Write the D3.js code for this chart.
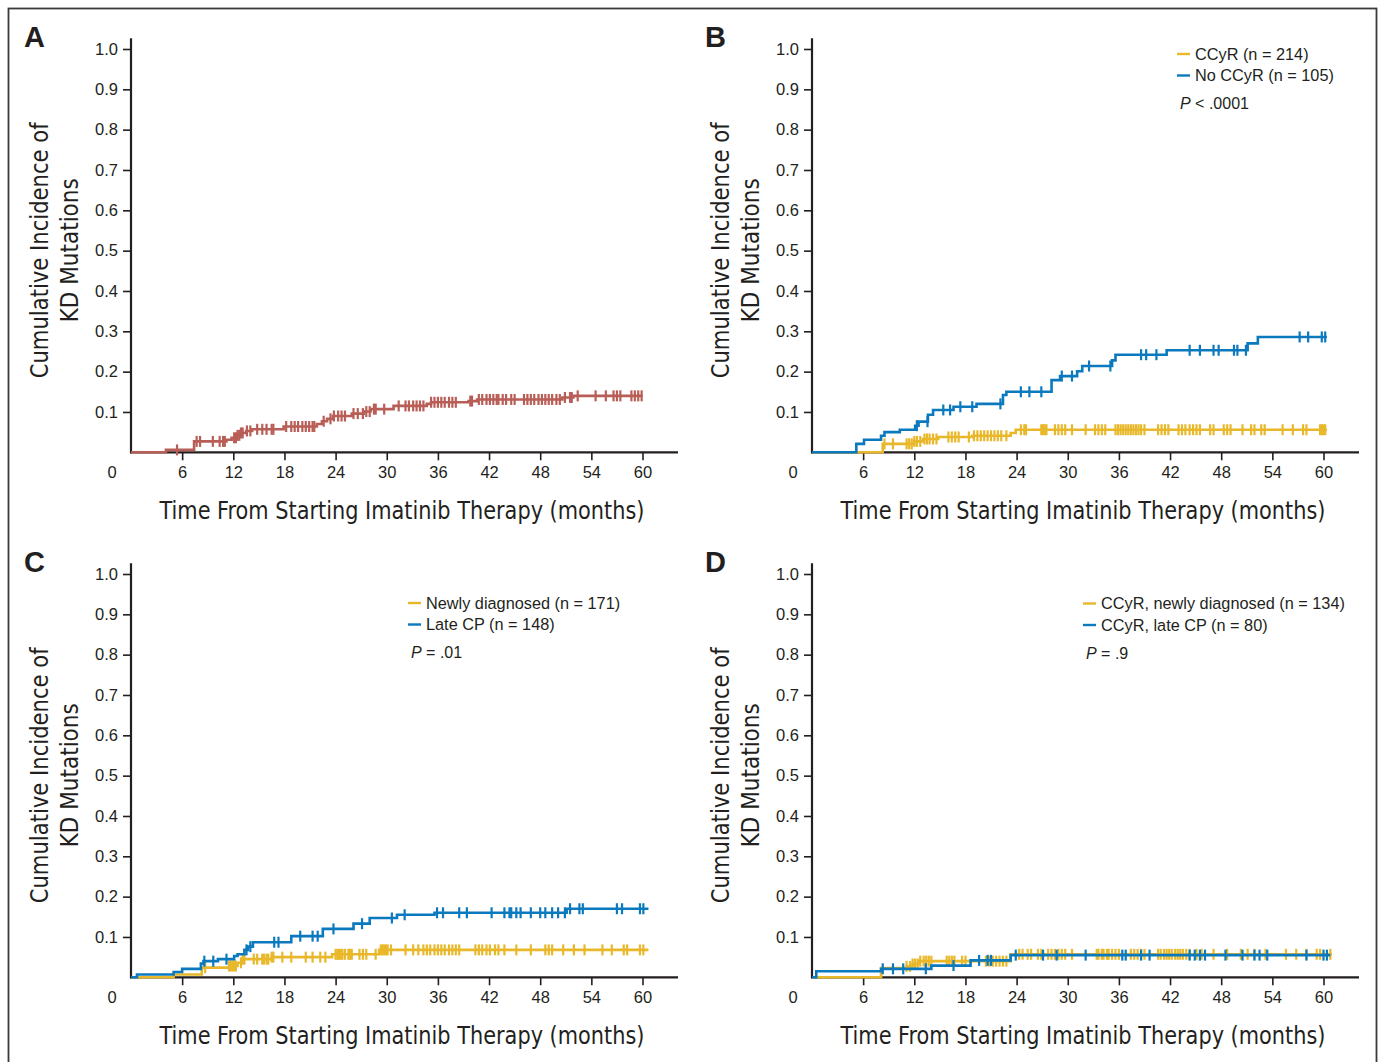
<!DOCTYPE html>
<html>
<head>
<meta charset="utf-8">
<script src="https://cdn.jsdelivr.net/npm/d3@7/dist/d3.min.js"></script>
<style>
    html, body { margin: 0; padding: 0; background: #fff; }
    svg { display: block; }
</style>
</head>
<body>
<svg id="chart" width="1381" height="1062"></svg>
<script>
'use strict';

// Tick labels
var X_TICKS = [6, 12, 18, 24, 30, 36, 42, 48, 54, 60],
    Y_TICKS = [0.1, 0.2, 0.3, 0.4, 0.5, 0.6, 0.7, 0.8, 0.9, 1.0];

// Panel A: all patients. Steps are [month, cumulative incidence]
var aSteps = [[0, 0], [4.1, 0.006], [7.4, 0.027], [11.2, 0.031], [11.8, 0.036], [12.4, 0.042],
    [12.9, 0.048], [13.5, 0.053], [14.2, 0.057], [17.9, 0.064], [21.8, 0.07], [22.4, 0.077],
    [23, 0.083], [23.7, 0.09], [25.9, 0.096], [27.3, 0.101], [28.1, 0.107], [30.8, 0.115],
    [34.7, 0.12], [35.2, 0.124], [39.6, 0.127], [40.6, 0.131], [50.6, 0.136], [51.9, 0.14]],
    aEnd = 60,
    aCensor = [5.4, 7.7, 8.1, 9.6, 10.4, 10.8, 11.0, 12.1, 12.3, 12.5, 12.7, 12.9, 13.1, 13.6,
    14.0, 14.8, 15.4, 15.9, 16.5, 16.7, 18.2, 18.8, 19.2, 19.6, 20.1, 20.5, 20.9, 21.3, 21.5,
    22.6, 23.4, 23.8, 24.3, 24.7, 25.1, 26.1, 26.6, 27.2, 27.6, 28.0, 28.5, 28.7, 29.7, 31.4,
    32.2, 32.6, 33.1, 33.5, 33.9, 34.3, 35.2, 35.6, 36.0, 36.4, 36.8, 37.3, 37.7, 38.1, 39.8,
    40.0, 40.8, 41.2, 41.7, 42.1, 42.5, 42.9, 43.1, 43.6, 44.0, 44.6, 45.0, 46.1, 46.5, 46.9,
    47.3, 47.8, 48.2, 48.6, 49.0, 49.4, 49.9, 50.3, 50.9, 51.5, 51.7, 52.4, 54.5, 55.7, 56.6,
    57.0, 57.4, 58.7, 59.1, 59.5, 59.9];

// Panel B: CCyR vs no CCyR
var bYesSteps = [[0, 0], [8.3, 0.021], [12, 0.027], [13, 0.033], [14.8, 0.038], [18.8, 0.041],
    [23.3, 0.048], [23.9, 0.056]],
    bYesEnd = 60.4,
    bYesCensor = [8.5, 9.5, 11.1, 11.4, 11.7, 12.0, 12.3, 12.7, 13.2, 13.5, 13.8, 14.2, 14.6,
    16.0, 16.4, 16.8, 17.2, 18.4, 19.0, 19.4, 19.8, 20.2, 20.6, 21.0, 21.4, 21.8, 22.2, 22.8,
    24.5, 24.9, 25.1, 26.9, 27.1, 27.3, 27.5, 28.5, 28.9, 29.3, 29.7, 30.5, 32.1, 33.2, 33.6,
    34.0, 34.4, 35.6, 35.9, 36.2, 36.5, 36.8, 37.1, 37.4, 37.7, 38.0, 38.3, 38.6, 39.0, 40.6,
    41.0, 41.4, 41.8, 43.0, 43.4, 43.8, 44.3, 44.7, 45.1, 45.5, 46.7, 47.1, 48.3, 48.7, 49.1,
    50.5, 51.5, 51.9, 52.7, 53.1, 55.2, 56.4, 57.6, 58.0, 59.6, 59.8, 60.0, 60.2];
var bNoSteps = [[0, 0], [5.2, 0.021], [6.1, 0.031], [8.1, 0.041], [8.5, 0.05], [10.3, 0.056],
    [12.1, 0.066], [12.5, 0.076], [13.6, 0.093], [14.2, 0.105], [16.6, 0.113], [19.3, 0.12],
    [22.4, 0.142], [22.8, 0.15], [28.1, 0.179], [29.1, 0.189], [31.1, 0.201], [31.7, 0.214],
    [35.2, 0.228], [35.6, 0.242], [41.6, 0.253], [51.1, 0.27], [52.3, 0.286]],
    bNoEnd = 60.4,
    bNoCensor = [12.3, 13.55, 15.4, 16.2, 17.4, 18.8, 22.1, 24.5, 25.5, 26.9, 29.3, 30.5, 32.5,
    35.0, 38.6, 39.2, 40.4, 44.3, 45.5, 47.1, 47.7, 49.5, 49.9, 50.9, 57.2, 58.2, 59.8, 60.2];

// Panel C: newly diagnosed vs late CP
var cNewSteps = [[0, 0], [5, 0.007], [8.3, 0.024], [11.5, 0.028], [12.5, 0.036], [13.1, 0.045],
    [16.5, 0.05], [23.6, 0.057], [29.1, 0.068]],
    cNewEnd = 60.7,
    cNewCensor = [8.7, 11.5, 11.7, 11.9, 12.1, 12.3, 12.9, 13.1, 13.3, 14.4, 14.8, 15.4, 15.6,
    15.9, 16.1, 16.5, 16.7, 17.75, 18.8, 20.5, 21.3, 22.2, 22.8, 24.0, 24.2, 24.4, 24.6, 24.8,
    25.1, 25.5, 25.7, 25.9, 26.8, 27.2, 27.6, 28.7, 29.3, 29.5, 29.7, 29.9, 30.1, 30.5, 32.2,
    33.1, 33.7, 34.3, 34.7, 35.1, 35.6, 36.0, 36.4, 36.8, 37.3, 37.7, 38.1, 38.5, 40.4, 40.8,
    41.2, 41.7, 42.1, 42.7, 43.1, 43.8, 45.2, 46.9, 48.6, 49.0, 49.4, 50.7, 51.95, 53.2, 55.3,
    56.4, 57.8, 58.2, 59.7, 60.1];
var cLateSteps = [[0, 0], [0.7, 0.007], [5, 0.013], [6, 0.021], [8.2, 0.034], [8.5, 0.04],
    [10.2, 0.045], [12.1, 0.053], [12.5, 0.057], [13.3, 0.068], [13.7, 0.076], [14.3, 0.087],
    [18.8, 0.102], [22.5, 0.12], [26.1, 0.133], [28, 0.147], [31.2, 0.155], [35.6, 0.16],
    [51.1, 0.17]],
    cLateEnd = 60.7,
    cLateCensor = [8.6, 9.65, 11.2, 13.55, 14.0, 16.8, 17.3, 19.85, 21.3, 21.9, 23.75, 27.1,
    30.6, 32.1, 35.9, 36.6, 38.5, 39.4, 42.3, 43.8, 44.4, 44.6, 45.2, 45.7, 46.9, 48.0, 48.6,
    49.4, 50.1, 50.9, 51.5, 52.6, 53.0, 57.0, 57.6, 59.7, 60.1];

// Panel D: CCyR, newly diagnosed vs CCyR, late CP
var dNewSteps = [[0, 0], [8.1, 0.023], [11.1, 0.027], [11.8, 0.033], [12.5, 0.04], [23.3, 0.057]],
    dNewEnd = 61,
    dNewCensor = [11.1, 11.5, 11.8, 12.1, 12.4, 12.7, 13.1, 13.4, 13.7, 14.0, 15.8, 16.1, 16.4,
    16.7, 17.6, 18.0, 20.4, 20.8, 21.2, 21.6, 22.0, 22.4, 22.8, 24.3, 24.7, 25.3, 25.7, 26.5,
    26.9, 27.7, 28.1, 28.5, 28.9, 29.3, 29.7, 30.5, 33.4, 33.6, 34.0, 34.2, 34.6, 34.8, 35.2,
    35.6, 36.0, 37.4, 37.8, 38.2, 38.6, 39.0, 40.6, 40.9, 41.3, 41.6, 41.9, 42.2, 42.6, 42.9,
    43.2, 43.5, 43.9, 44.3, 45.1, 45.7, 47.1, 48.7, 50.3, 51.1, 51.9, 53.2, 55.6, 56.8, 58.0,
    59.2, 59.6, 60.8];
var dLateSteps = [[0, 0], [0.5, 0.015], [8.1, 0.021], [14, 0.029], [18.6, 0.042], [23.3, 0.055]],
    dLateEnd = 60.8,
    dLateCensor = [8.3, 9.5, 10.7, 13.35, 16.6, 19.6, 20.6, 21.0, 23.9, 27.1, 28.7, 32.1, 36.4,
    36.8, 38.6, 39.6, 44.3, 44.9, 45.5, 46.1, 48.5, 50.5, 51.9, 52.5, 53.4, 58.0, 60.0, 60.4];


// Colours and fonts
var RED = '#b95e57',
    BLUE = '#0a79bd',
    YELLOW = '#e8b82a',
    INK = '#231f20',
    TITLE_FONT = "'Liberation Sans Narrow', 'DejaVu Sans Condensed', sans-serif",
    LABEL_FONT = "'Liberation Sans', Arial, sans-serif";

var svg = d3.select('#chart');


/**
 * Value of a step function at time t.
 */
function valueAt(steps, t) {
    var v = 0;
    steps.forEach(function (s) {
        if (s[0] <= t) v = s[1];
    });
    return v;
}


function drawPanel(p) {
    var g = svg.append('g');

    var x = d3.scaleLinear().domain([0, 60]).range([p.x0, p.x0 + 511.5]),
        y = d3.scaleLinear().domain([0, 1]).range([p.y0, p.y0 - 403.3]);

    // Axes
    var yAxis = g.append('g')
        .attr('transform', 'translate(' + p.x0 + ',0)')
        .call(d3.axisLeft(y).tickValues(Y_TICKS).tickSize(8).tickPadding(5).tickFormat(d3.format('.1f')));

    var xAxis = g.append('g')
        .attr('transform', 'translate(0,' + p.y0 + ')')
        .call(d3.axisBottom(x).tickValues(X_TICKS).tickSize(8).tickPadding(6));

    [yAxis, xAxis].forEach(function (a) {
        a.select('.domain').remove();
        a.selectAll('line').attr('stroke', INK).attr('stroke-width', 1.6);
        a.selectAll('text')
            .attr('fill', INK)
            .style('font-family', LABEL_FONT)
            .style('font-size', '16.5px');
    });

    g.append('line')
        .attr('x1', p.x0).attr('x2', p.x0)
        .attr('y1', p.y0 + 1).attr('y2', p.y0 - 414)
        .attr('stroke', INK).attr('stroke-width', 2.2);

    g.append('line')
        .attr('x1', p.x0 - 1).attr('x2', p.x0 + 547)
        .attr('y1', p.y0).attr('y2', p.y0)
        .attr('stroke', INK).attr('stroke-width', 2.2);

    g.append('text')
        .attr('x', p.x0 - 19).attr('y', p.y0 + 25.5)
        .attr('text-anchor', 'middle')
        .attr('fill', INK)
        .style('font-family', LABEL_FONT)
        .style('font-size', '16.5px')
        .text('0');

    // Titles, squeezed to the width of the condensed face in the original
    g.append('text')
        .attr('x', p.x0 + 271).attr('y', p.y0 + 67)
        .attr('text-anchor', 'middle')
        .attr('textLength', 485)
        .attr('lengthAdjust', 'spacingAndGlyphs')
        .attr('fill', INK)
        .style('font-family', TITLE_FONT)
        .style('font-size', '25.5px')
        .text('Time From Starting Imatinib Therapy (months)');

    var yt = g.append('g')
        .attr('transform', 'translate(' + (p.x0 - 83) + ',' + (p.y0 - 202) + ') rotate(-90)');

    yt.append('text')
        .attr('x', 0).attr('y', 0)
        .attr('text-anchor', 'middle')
        .attr('textLength', 256)
        .attr('lengthAdjust', 'spacingAndGlyphs')
        .attr('fill', INK)
        .style('font-family', TITLE_FONT)
        .style('font-size', '25.5px')
        .text('Cumulative Incidence of');

    yt.append('text')
        .attr('x', 0).attr('y', 30)
        .attr('text-anchor', 'middle')
        .attr('textLength', 144)
        .attr('lengthAdjust', 'spacingAndGlyphs')
        .attr('fill', INK)
        .style('font-family', TITLE_FONT)
        .style('font-size', '25.5px')
        .text('KD Mutations');

    g.append('text')
        .attr('x', p.x0 - 107).attr('y', p.y0 - 405)
        .attr('fill', INK)
        .style('font-family', LABEL_FONT)
        .style('font-size', '29px')
        .style('font-weight', 'bold')
        .text(p.letter);

    // Curves
    var line = d3.line()
        .x(function (d) { return x(d[0]); })
        .y(function (d) { return y(d[1]); })
        .curve(d3.curveStepAfter);

    p.series.forEach(function (s) {
        var pts = s.steps.concat([[s.end, s.steps[s.steps.length - 1][1]]]);

        g.append('path')
            .attr('d', line(pts))
            .attr('fill', 'none')
            .attr('stroke', s.color)
            .attr('stroke-width', 2.6);

        g.append('g').selectAll('line')
            .data(s.censor)
            .enter().append('line')
            .attr('x1', function (t) { return x(t); })
            .attr('x2', function (t) { return x(t); })
            .attr('y1', function (t) { return y(valueAt(s.steps, t)) - 5.5; })
            .attr('y2', function (t) { return y(valueAt(s.steps, t)) + 5.5; })
            .attr('stroke', s.color)
            .attr('stroke-width', 2.2);
    });

    // Legend
    if (p.legend) {
        var lg = g.append('g')
            .attr('transform', 'translate(' + p.legend.x + ',' + p.legend.y + ')');

        p.series.forEach(function (s, i) {
            lg.append('line')
                .attr('x1', 0).attr('x2', 13)
                .attr('y1', i * 21.5).attr('y2', i * 21.5)
                .attr('stroke', s.color)
                .attr('stroke-width', 2.4);

            lg.append('text')
                .attr('x', 18).attr('y', i * 21.5 + 5.5)
                .attr('fill', INK)
                .style('font-family', LABEL_FONT)
                .style('font-size', '16.3px')
                .text(s.label);
        });

        var pt = lg.append('text')
            .attr('x', 3).attr('y', 55)
            .attr('fill', INK)
            .style('font-family', LABEL_FONT)
            .style('font-size', '16px');
        pt.append('tspan').style('font-style', 'italic').text('P');
        pt.append('tspan').text(p.legend.p);
    }
}


function draw() {
    svg.append('rect')
        .attr('x', 8.5).attr('y', 8.5)
        .attr('width', 1368).attr('height', 1070)
        .attr('fill', 'none')
        .attr('stroke', '#3a3a3a')
        .attr('stroke-width', 1.8);

    drawPanel({
        letter: 'A', x0: 131, y0: 452.3,
        series: [{ steps: aSteps, end: aEnd, censor: aCensor, color: RED }]
    });

    drawPanel({
        letter: 'B', x0: 812, y0: 452.3,
        legend: { x: 1177, y: 54, p: ' < .0001' },
        series: [
            { steps: bYesSteps, end: bYesEnd, censor: bYesCensor, color: YELLOW, label: 'CCyR (n = 214)' },
            { steps: bNoSteps, end: bNoEnd, censor: bNoCensor, color: BLUE, label: 'No CCyR (n = 105)' }
        ]
    });

    drawPanel({
        letter: 'C', x0: 131, y0: 977.3,
        legend: { x: 408, y: 603, p: ' = .01' },
        series: [
            { steps: cNewSteps, end: cNewEnd, censor: cNewCensor, color: YELLOW, label: 'Newly diagnosed (n = 171)' },
            { steps: cLateSteps, end: cLateEnd, censor: cLateCensor, color: BLUE, label: 'Late CP (n = 148)' }
        ]
    });

    drawPanel({
        letter: 'D', x0: 812, y0: 977.3,
        legend: { x: 1083, y: 603.5, p: ' = .9' },
        series: [
            { steps: dNewSteps, end: dNewEnd, censor: dNewCensor, color: YELLOW, label: 'CCyR, newly diagnosed (n = 134)' },
            { steps: dLateSteps, end: dLateEnd, censor: dLateCensor, color: BLUE, label: 'CCyR, late CP (n = 80)' }
        ]
    });
}

draw();
</script>
</body>
</html>
